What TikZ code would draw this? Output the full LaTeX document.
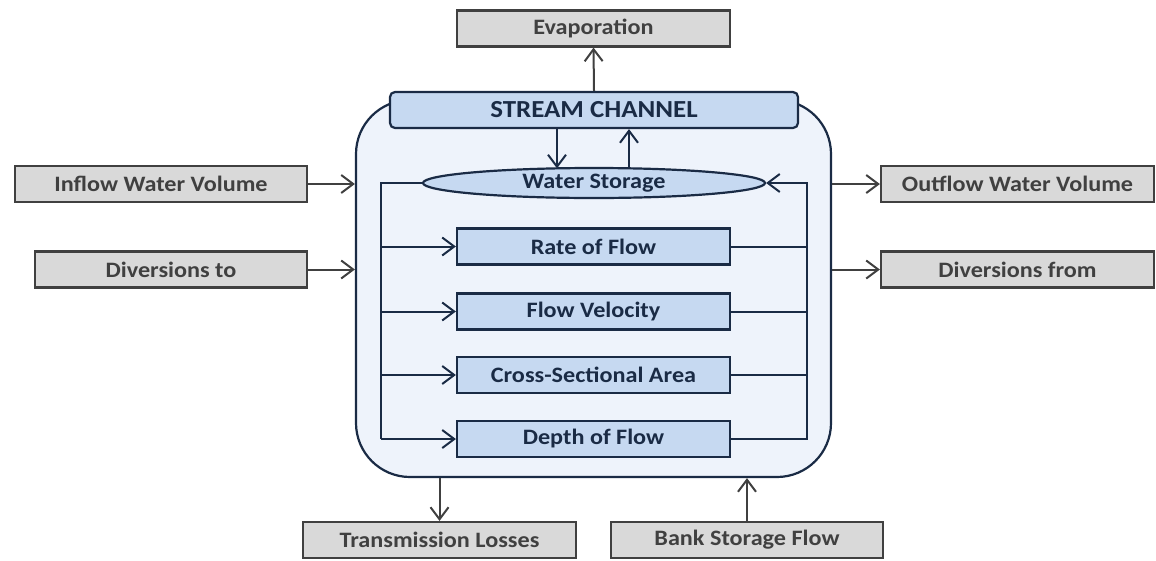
\documentclass[tikz,border=0pt]{standalone}
\usepackage{fontspec}
\setmainfont{Carlito}[FakeStretch=1.1]
\usetikzlibrary{arrows.meta,shapes.geometric,calc}
\definecolor{greyfill}{HTML}{D9D9D9}
\definecolor{greyline}{HTML}{404040}
\definecolor{bluefill}{HTML}{C6D9F1}
\definecolor{paneblue}{HTML}{EEF3FB}
\definecolor{navy}{HTML}{1A2B45}
\tikzset{
  x=1pt, y=-1pt,
  tip/.style={-{Straight Barb[length=12pt,width=18pt,line width=2pt]}},
  labelfont/.style={font=\fontsize{22}{24}\selectfont\bfseries},
  outbox/.style={draw=greyline, fill=greyfill, line width=2.2pt, text=greyline,
    minimum width=273pt, minimum height=36pt, inner sep=0pt, labelfont},
  inbox/.style={draw=navy, fill=bluefill, line width=2.2pt, text=navy,
    minimum width=273pt, minimum height=36pt, inner sep=0pt, labelfont},
  greyarrow/.style={tip, draw=greyline, line width=2pt},
  navyarrow/.style={tip, draw=navy, line width=2pt},
  navyline/.style={draw=navy, line width=2pt},
}
\begin{document}
\begin{tikzpicture}
\useasboundingbox (0,0) rectangle (1156,560);

% channel enclosure and its heading
\node[draw=navy, fill=paneblue, line width=2.2pt, rounded corners=54pt,
      minimum width=475pt, minimum height=377pt, inner sep=0pt] (channel) at (593.5,288.5) {};
\node[inbox, rounded corners=5pt, minimum width=408pt, font=\fontsize{24.5}{26}\selectfont\bfseries]
      (header) at (594,110) {STREAM CHANNEL};

% channel state variables
\node[draw=navy, fill=bluefill, line width=2.2pt, ellipse, text=navy,
      minimum width=342pt, minimum height=30pt, inner sep=0pt, labelfont]
      (storage) at (594,183) {Water Storage};
\node[inbox] (rate)  at (593.5,246.5) {Rate of Flow};
\node[inbox] (vel)   at (593.5,311.5) {Flow Velocity};
\node[inbox] (cross) at (593.5,375)   {Cross-Sectional Area};
\node[inbox] (depth) at (593.5,439)   {Depth of Flow};

% external terms
\node[outbox] (evap)    at (593.5,28.5) {Evaporation};
\node[outbox, minimum width=292pt] (inflow) at (161,184) {Inflow Water Volume};
\node[outbox, minimum width=272pt] (divto)  at (171,269.5) {Diversions to};
\node[outbox] (outflow) at (1017.5,184)  {Outflow Water Volume};
\node[outbox] (divfrom) at (1017.5,269.5) {Diversions from};
\node[outbox] (trans)   at (439.5,540) {Transmission Losses};
\node[outbox, minimum width=272pt] (bank) at (747,540) {Bank Storage Flow};

% bus lines inside the channel
\coordinate (busL) at (381,183);
\coordinate (busR) at (807,183);

% external exchanges
\draw[greyarrow] (header.north) -- (evap.south);
\draw[greyarrow] (inflow.east) -- (inflow.east -| channel.west);
\draw[greyarrow] (divto.east) -- (divto.east -| channel.west);
\draw[greyarrow] (outflow.west -| channel.east) -- (outflow.west);
\draw[greyarrow] (divfrom.west -| channel.east) -- (divfrom.west);
\draw[greyarrow] (trans.north |- channel.south) -- (trans.north);
\draw[greyarrow] (bank.north) -- (bank.north |- channel.south);

% exchanges between heading and storage
\draw[navyarrow] ([xshift=-37pt]header.south) -- ([xshift=-37pt,yshift=-1.5pt]storage.north);
\draw[navyarrow] ([xshift=35pt,yshift=-1.5pt]storage.north) -- ([xshift=35pt]header.south);

% left bus feeding the state variables
\draw[navyline] (storage.west) -- (busL) -- (busL |- depth);
\draw[navyarrow] (busL |- rate)  -- (rate.west);
\draw[navyarrow] (busL |- vel)   -- (vel.west);
\draw[navyarrow] (busL |- cross) -- (cross.west);
\draw[navyarrow] (busL |- depth) -- (depth.west);

% right bus returning to storage
\draw[navyline] (rate.east)  -- (busR |- rate);
\draw[navyline] (vel.east)   -- (busR |- vel);
\draw[navyline] (cross.east) -- (busR |- cross);
\draw[navyarrow] (depth.east) -- (busR |- depth) -- (busR) -- (storage.east);
\end{tikzpicture}
\end{document}
